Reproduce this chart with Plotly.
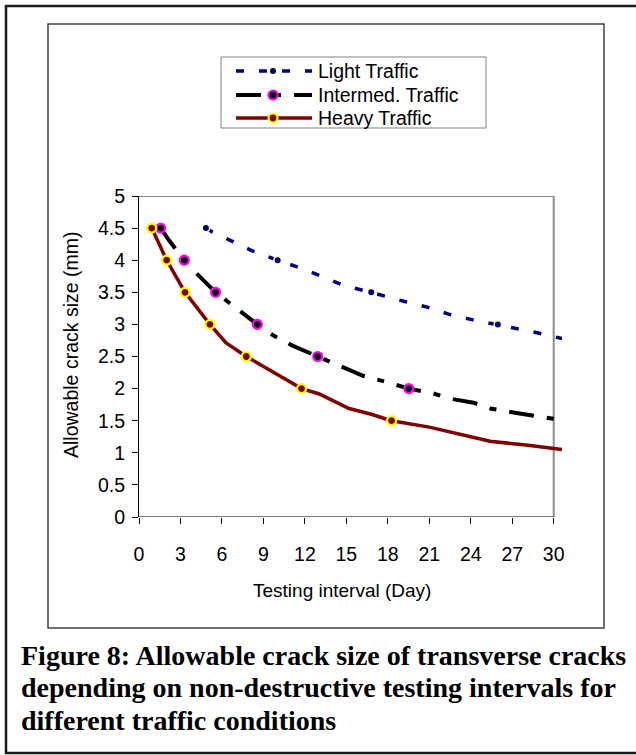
import plotly.graph_objects as go

# ---------------- data ----------------
light_x = [4.84, 5.3, 6.6, 8.15, 10.03, 11.8, 13.4, 14.9, 16.8, 17.6, 19.15, 20.85, 22.4, 24.15, 25.96, 27.2, 28.8, 30.6]
light_y = [4.5, 4.44, 4.31, 4.15, 4.0, 3.87, 3.73, 3.6, 3.5, 3.45, 3.36, 3.27, 3.16, 3.07, 3.0, 2.94, 2.87, 2.78]

inter_x = [1.57, 2.17, 3.28, 4.27, 5.54, 6.94, 8.56, 9.7, 11.1, 12.93, 14.5, 16.2, 17.6, 19.52, 21.2, 22.6, 24.2, 25.4, 27.3, 28.9, 30.6]
inter_y = [4.5, 4.31, 4.0, 3.77, 3.5, 3.26, 3.0, 2.83, 2.67, 2.5, 2.36, 2.2, 2.12, 2.0, 1.93, 1.84, 1.78, 1.69, 1.62, 1.56, 1.51]

heavy_x = [0.92, 2.0, 3.33, 5.13, 6.3, 7.76, 9.7, 10.7, 11.76, 13.0, 14.5, 15.2, 16.8, 18.27, 21.0, 23.4, 25.4, 28.0, 30.6]
heavy_y = [4.5, 4.0, 3.5, 3.0, 2.71, 2.5, 2.26, 2.13, 2.0, 1.92, 1.76, 1.69, 1.6, 1.5, 1.4, 1.28, 1.18, 1.12, 1.05]

series_names = ["Light Traffic", "Intermed. Traffic", "Heavy Traffic"]
x_ticks = [0, 3, 6, 9, 12, 15, 18, 21, 24, 27, 30]
y_ticks = [0, 0.5, 1, 1.5, 2, 2.5, 3, 3.5, 4, 4.5, 5]
caption = ["Figure 8: Allowable crack size of transverse cracks",
           "depending on non-destructive testing intervals for",
           "different traffic conditions"]

# ---------------- styles ----------------
styles = [
    dict(color="#000080", width=3.5, dash="8px,15px", msize=7.5, mline="#FFFFCC", mlw=1.5),
    dict(color="#000000", width=4, dash="25px,13px,7px,13px", msize=9, mline="#FF00FF", mlw=2.2),
    dict(color="#800000", width=3.5, dash="solid", msize=9, mline="#FFFF00", mlw=2.2),
]
SANS = "Liberation Sans, Arial, sans-serif"
SERIF = "Liberation Serif, Times New Roman, serif"

W, H = 636, 755
L, R, T, B = 139, 74, 196, 238
PW, PH = W - L - R, H - T - B


def px(x):
    return (x - L) / PW


def py(y):
    return (H - B - y) / PH


fig = go.Figure()

all_series = [(light_x, light_y), (inter_x, inter_y), (heavy_x, heavy_y)]
for (xs, ys), st, name in zip(all_series, styles, series_names):
    fig.add_trace(go.Scatter(x=xs, y=ys, mode="lines", name=name, showlegend=False,
                             line=dict(color=st["color"], width=st["width"], dash=st["dash"]),
                             hoverinfo="skip"))
    mx = [x for x, y in zip(xs, ys) if abs(y * 2 - round(y * 2)) < 1e-9]
    my = [y for y in ys if abs(y * 2 - round(y * 2)) < 1e-9]
    fig.add_trace(go.Scatter(x=mx, y=my, mode="markers", name=name, showlegend=False,
                             marker=dict(size=st["msize"], color=st["color"],
                                         line=dict(color=st["mline"], width=st["mlw"]))))

shapes = []
# outer frame and inner chart box
shapes.append(dict(type="rect", xref="paper", yref="paper", x0=px(6), x1=px(646), y0=py(753), y1=py(6),
                   line=dict(color="#1a1a1a", width=2.5)))
shapes.append(dict(type="rect", xref="paper", yref="paper", x0=px(48), x1=px(604), y0=py(628), y1=py(24),
                   line=dict(color="#404040", width=1.5)))
# plot area border (grey top/right) and x axis line
shapes.append(dict(type="line", xref="x", yref="y", x0=0, x1=30, y0=5, y1=5,
                   line=dict(color="#8c8c8c", width=2), layer="below"))
shapes.append(dict(type="line", xref="x", yref="y", x0=30, x1=30, y0=0, y1=5,
                   line=dict(color="#8c8c8c", width=2), layer="below"))
shapes.append(dict(type="line", xref="x", yref="y", x0=0, x1=30, y0=0, y1=0,
                   line=dict(color="#000000", width=1.2)))

# legend box
shapes.append(dict(type="rect", xref="paper", yref="paper", x0=px(221), x1=px(486), y0=py(128), y1=py(57),
                   line=dict(color="#808080", width=1), fillcolor="white"))
rows = [71, 95, 118]
annotations = []
for st, name, ry in zip(styles, series_names, rows):
    shapes.append(dict(type="line", xref="paper", yref="paper", x0=px(236), x1=px(312), y0=py(ry), y1=py(ry),
                       line=dict(color=st["color"], width=st["width"], dash=st["dash"])))
    r = st["msize"] / 2
    shapes.append(dict(type="circle", xref="paper", yref="paper", xsizemode="pixel", ysizemode="pixel",
                       xanchor=px(273), yanchor=py(ry), x0=-r, x1=r, y0=-r, y1=r,
                       fillcolor=st["color"], line=dict(color=st["mline"], width=st["mlw"])))
    annotations.append(dict(xref="paper", yref="paper", x=px(316), y=py(ry), xanchor="left", yanchor="middle",
                            text=name, showarrow=False, font=dict(family=SANS, size=19.5, color="black")))

# axis titles
annotations.append(dict(xref="paper", yref="paper", x=px(71), y=py(345), xanchor="center", yanchor="middle",
                        text="Allowable crack size (mm)", textangle=-90, showarrow=False,
                        font=dict(family=SANS, size=19.5, color="black")))
annotations.append(dict(xref="paper", yref="paper", x=px(342), y=py(590), xanchor="center", yanchor="middle",
                        text="Testing interval (Day)", showarrow=False,
                        font=dict(family=SANS, size=19, color="black")))

# caption
for line_text, cy in zip(caption, [655, 687.5, 720]):
    annotations.append(dict(xref="paper", yref="paper", x=px(19), y=py(cy), xanchor="left", yanchor="middle",
                            text="<b>" + line_text + "</b>", showarrow=False,
                            font=dict(family=SERIF, size=28, color="black")))

fig.update_layout(
    width=W, height=H,
    margin=dict(l=L, r=R, t=T, b=B, pad=0),
    paper_bgcolor="white", plot_bgcolor="white",
    showlegend=False,
    shapes=shapes, annotations=annotations,
    xaxis=dict(range=[0, 30.6], tickvals=x_ticks, ticktext=[str(v) for v in x_ticks],
               showgrid=False, zeroline=False, showline=False,
               ticks="outside", ticklen=6, tickwidth=1.2, tickcolor="black",
               ticklabelstandoff=14,
               tickfont=dict(family=SANS, size=19.5, color="black")),
    yaxis=dict(range=[0, 5], tickvals=y_ticks, showgrid=False, zeroline=False,
               showline=True, linecolor="black", linewidth=1.2,
               ticks="outside", ticklen=6, tickwidth=1.2, tickcolor="black",
               ticklabelstandoff=3,
               tickfont=dict(family=SANS, size=19.5, color="black")),
)

fig.write_html("out.html", config={"displayModeBar": False},
               post_script="document.body.style.margin='0';document.body.style.overflow='hidden';")
